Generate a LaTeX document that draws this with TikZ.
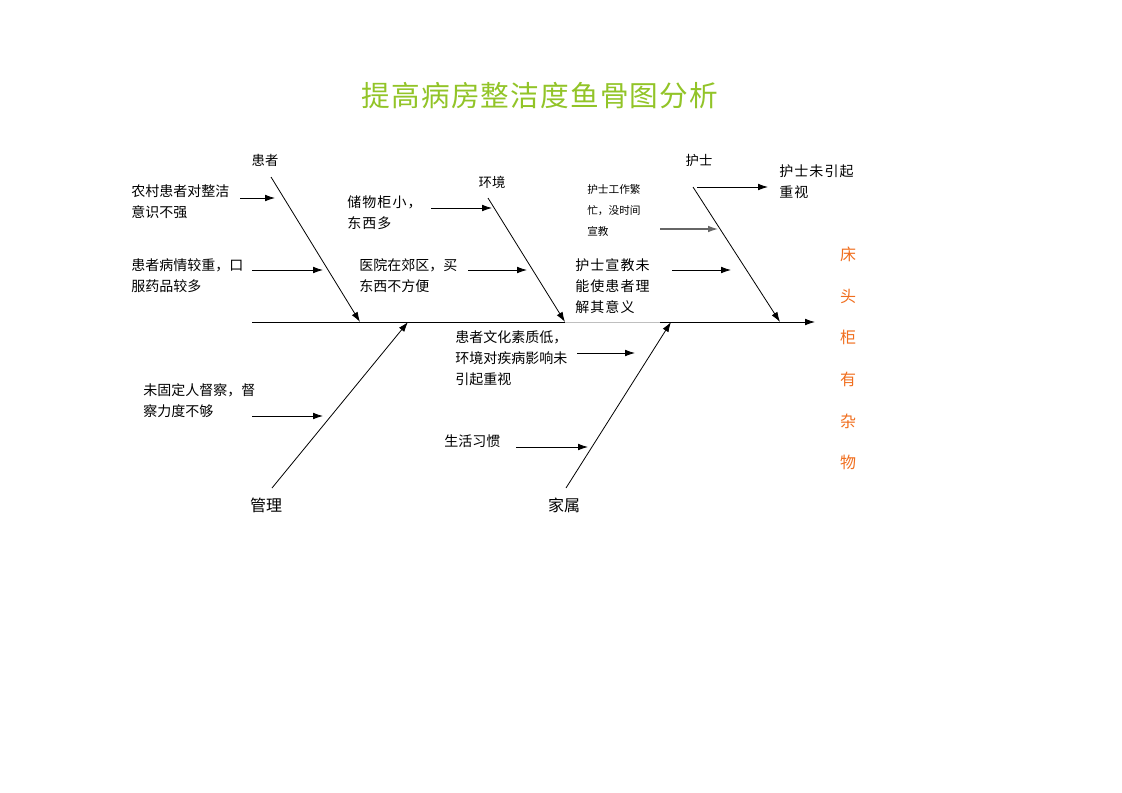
\documentclass[tikz,border=0pt]{standalone}
\usepackage{fontspec}
\setmainfont{Noto Sans CJK SC}
\usetikzlibrary{arrows.meta}
\definecolor{titlegreen}{RGB}{146,196,40}
\definecolor{effectorange}{RGB}{240,110,30}

\begin{document}
\begin{tikzpicture}
[x=0.75pt,y=-0.75pt,
 ar/.style={-{Latex[length=7.5pt,width=5pt]},line width=0.6pt},
 bone/.style={line width=0.6pt},
 txt/.style={anchor=north west,inner sep=0pt,align=left,font=\fontsize{10.5pt}{16pt}\selectfont},
 small/.style={txt,font=\fontsize{8pt}{16pt}\selectfont},
 wide/.style={txt,font=\fontsize{10.5pt}{16pt}\selectfont\addfontfeature{LetterSpace=8}},
 cat/.style={inner sep=0pt,font=\fontsize{10pt}{12pt}\selectfont},
 bigcat/.style={inner sep=0pt,font=\fontsize{12pt}{14pt}\selectfont}]
\useasboundingbox (0,0) rectangle (1122,793);

% title and effect
\node [inner sep=0pt,text=titlegreen,font=\fontsize{21.5pt}{26pt}\selectfont\addfontfeature{LetterSpace=4}] at (540,96) (title) {提高病房整洁度鱼骨图分析};
\node [anchor=north,inner sep=0pt,align=center,text=effectorange,font=\fontsize{12pt}{31.2pt}\selectfont] at (848,247) (effect) {床\\头\\柜\\有\\杂\\物};

% spine
\coordinate (s0) at (252,322);
\coordinate (s1) at (565,322);
\coordinate (s2) at (660,322);
\coordinate (head) at (815,322);
\draw [bone] (s0) -- (s1);
\draw [bone,black!25] (s1) -- (s2);
\draw [ar] (s2) -- (head);

% main bones
\coordinate (pat) at (271,177);
\coordinate (patend) at (360,322);
\coordinate (env) at (488,198);
\coordinate (nur) at (693,187);
\coordinate (nurend) at (780,322);
\coordinate (mgt) at (272,488);
\coordinate (mgtend) at (408,322);
\coordinate (fam) at (566,488);
\coordinate (famend) at (671,322);
\draw [ar] (pat) -- (patend);
\draw [ar] (env) -- (s1);
\draw [ar] (nur) -- (nurend);
\draw [ar] (mgt) -- (mgtend);
\draw [ar] (fam) -- (famend);

% bone labels
\node [cat] at (265,160) (patlab) {患者};
\node [cat] at (492,182) (envlab) {环境};
\node [cat] at (699,160) (nurlab) {护士};
\node [bigcat] at (266,505) (mgtlab) {管理};
\node [bigcat] at (564,505) (famlab) {家属};

% causes
\node [txt] at (131,184) (c1) {农村患者对整洁\\意识不强};
\node [txt] at (131,258) (c2) {患者病情较重，口\\服药品较多};
\node [wide] at (347,195) (c3) {储物柜小，\\东西多};
\node [txt] at (359,258) (c4) {医院在郊区，买\\东西不方便};
\node [small] at (587,184) (c5) {护士工作繁\\忙，没时间\\宣教};
\node [wide] at (575,258) (c6) {护士宣教未\\能使患者理\\解其意义};
\node [wide] at (779,164) (c7) {护士未引起\\重视};
\node [txt] at (455,330) (c8) {患者文化素质低，\\环境对疾病影响未\\引起重视};
\node [txt] at (143,383) (c9) {未固定人督察，督\\察力度不够};
\node [txt,anchor=west] at (444,441) (c10) {生活习惯};

\coordinate (a1) at (240,198);  \coordinate (b1) at (275,198);
\coordinate (a2) at (252,270);  \coordinate (b2) at (323,270);
\coordinate (a3) at (431,208);  \coordinate (b3) at (492,208);
\coordinate (a4) at (468,270);  \coordinate (b4) at (527,270);
\coordinate (a5) at (660,229);  \coordinate (b5) at (718,229);
\coordinate (a6) at (672,270);  \coordinate (b6) at (731,270);
\coordinate (a7) at (697,187);  \coordinate (b7) at (768,187);
\coordinate (a8) at (577,353);  \coordinate (b8) at (635,353);
\coordinate (a9) at (252,416);  \coordinate (b9) at (323,416);
\coordinate (a10) at (516,447); \coordinate (b10) at (588,447);

\draw [ar] (a1) -- (b1);
\draw [ar] (a2) -- (b2);
\draw [ar] (a3) -- (b3);
\draw [ar] (a4) -- (b4);
\draw [ar,draw=black!60,line width=0.9pt] (a5) -- (b5);
\draw [ar] (a6) -- (b6);
\draw [ar] (a7) -- (b7);
\draw [ar] (a8) -- (b8);
\draw [ar] (a9) -- (b9);
\draw [ar] (a10) -- (b10);
\end{tikzpicture}
\end{document}
